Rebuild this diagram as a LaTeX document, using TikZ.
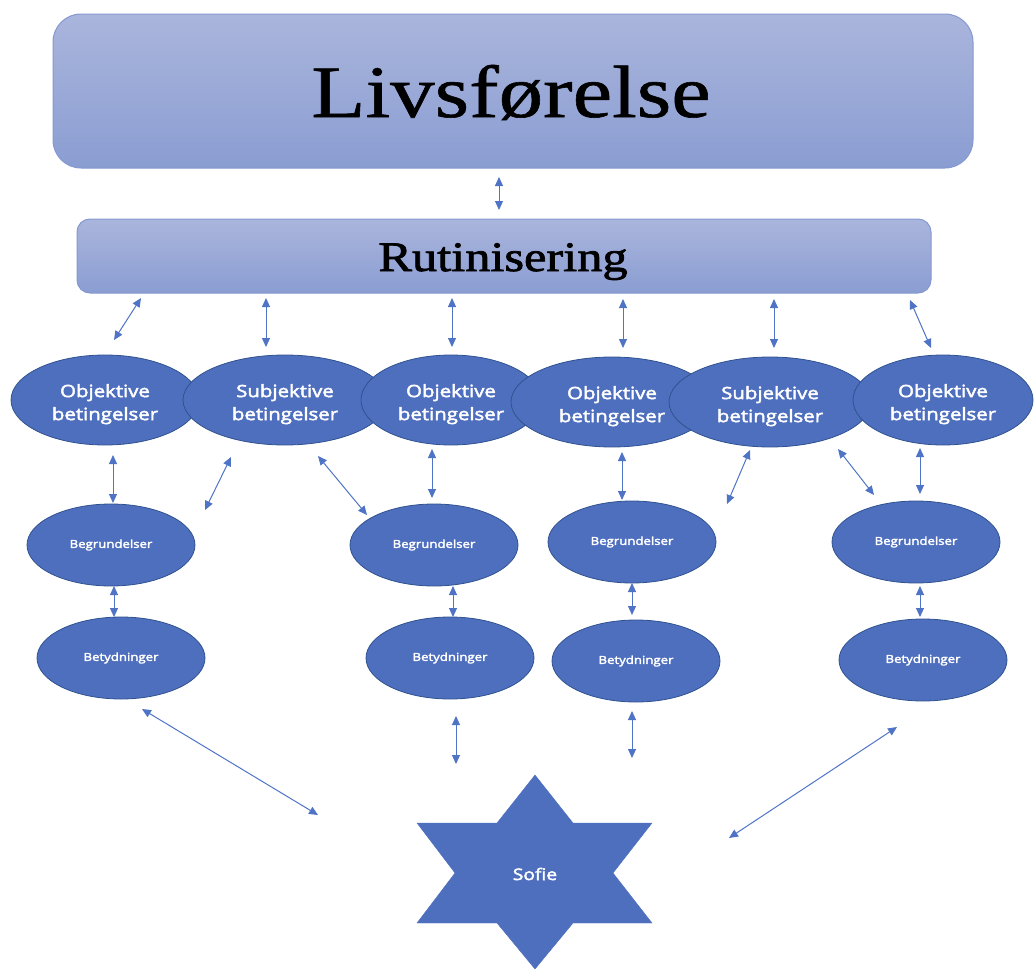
\documentclass[tikz,border=0pt]{standalone}
\usepackage{fontspec}
\setmainfont{Liberation Serif}
\newfontfamily\titlefont[FakeStretch=1.2,FakeBold=0.8]{Liberation Serif}
\newfontfamily\subtitlefont[FakeStretch=1.2,FakeBold=1.8]{Liberation Serif}
\newfontfamily\labelfont[FakeStretch=1.2,FakeBold=2.6]{Open Sans}
\usetikzlibrary{shapes.geometric,arrows.meta}
\definecolor{nodeblue}{HTML}{4E6FBE}
\definecolor{nodeedge}{HTML}{30528F}
\definecolor{arrowblue}{HTML}{4F74C6}
\definecolor{boxtop}{HTML}{AAB5DC}
\definecolor{boxbot}{HTML}{8A9DD2}
\definecolor{boxedge}{HTML}{8599D0}
\newcommand\twoline[2]{\raisebox{-4pt}[\height][\depth]{\begin{tabular}{@{}c@{}}#1\\#2\end{tabular}}}
\begin{document}
\begin{tikzpicture}[x=1pt,y=-1pt,
  bigbox/.style={draw=boxedge, line width=1pt, top color=boxtop, bottom color=boxbot, inner sep=0pt},
  oval/.style={ellipse, draw=nodeedge, line width=0.8pt, fill=nodeblue, text=white, inner sep=0pt,
    font=\labelfont\fontsize{17}{23}\selectfont, align=center},
  smalloval/.style={oval, minimum width=168pt, minimum height=82pt, font=\labelfont\fontsize{11}{13}\selectfont},
  bi/.style={arrowblue, line width=1pt, {Triangle[length=9pt,width=8pt]}-{Triangle[length=9pt,width=8pt]}}
]
\useasboundingbox (0,0) rectangle (1034,969);

% top boxes
\node[bigbox, minimum width=920pt, minimum height=154pt, rounded corners=28pt] (liv) at (513,91) {};
\node[anchor=base, font=\titlefont\fontsize{74}{80}\selectfont] (livtext) at (511,117) {Livsførelse};
\node[bigbox, minimum width=854pt, minimum height=74pt, rounded corners=13pt] (rut) at (504,256) {};
\node[anchor=base, font=\subtitlefont\fontsize{42}{46}\selectfont] (ruttext) at (503,271) {Rutinisering};

% first row of ellipses (drawn left to right)
\node[oval, minimum width=188pt, minimum height=90pt] (o1) at (105,400) {\twoline{Objektive}{betingelser}};
\node[oval, minimum width=204pt, minimum height=90pt] (s2) at (285,400) {\twoline{Subjektive}{betingelser}};
\node[oval, minimum width=180pt, minimum height=90pt] (o3) at (451,400) {\twoline{Objektive}{betingelser}};
\node[oval, minimum width=202pt, minimum height=90pt] (o4) at (612,402) {\twoline{Objektive}{betingelser}};
\node[oval, minimum width=202pt, minimum height=90pt] (s5) at (770,402) {\twoline{Subjektive}{betingelser}};
\node[oval, minimum width=180pt, minimum height=90pt] (o6) at (943,400) {\twoline{Objektive}{betingelser}};

% second row
\node[smalloval] (b1) at (111,545) {Begrundelser};
\node[smalloval] (b2) at (434,545) {Begrundelser};
\node[smalloval] (b3) at (632,542) {Begrundelser};
\node[smalloval] (b4) at (916,542) {Begrundelser};

% third row
\node[smalloval] (t1) at (121,658) {Betydninger};
\node[smalloval] (t2) at (450,658) {Betydninger};
\node[smalloval] (t3) at (636,661) {Betydninger};
\node[smalloval] (t4) at (923,660) {Betydninger};

% star
\draw[fill=nodeblue, draw=nodeblue] (535,775) -- (573,823) -- (652,823) -- (613,873) -- (652,923) -- (573,923)
  -- (535,969) -- (497,923) -- (417,923) -- (455,873) -- (417,823) -- (497,823) -- cycle;
\node[text=white, font=\labelfont\fontsize{16}{20}\selectfont] (sofie) at (535,874) {Sofie};

% connectors
\foreach \n/\xa/\ya/\xb/\yb in {
  A0/499/177/499/210,
  a1/141/298/114/340, a2/266/298/266/347, a3/452/298/452/347,
  a4/623/299/623/348, a5/774/299/774/348, a6/910/300/931/348,
  b1/113/455/113/503, b2/231/457/205/510, b3/318/456/367/515, b4/432/449/432/498,
  b5/622/452/622/500, b6/750/450/727/504, b7/838/449/874/495, b8/920/448/920/494,
  c1/114/586/114/617, c2/453/586/453/617, c3/632/583/632/615, c4/920/586/920/617,
  d1/142/709/318/815, d2/456/716/456/764, d3/632/711/632/758, d4/897/727/729/838}{
  \coordinate (\n-s) at (\xa,\ya);
  \coordinate (\n-e) at (\xb,\yb);
  \draw[bi] (\n-s) -- (\n-e);
}
\end{tikzpicture}
\end{document}
